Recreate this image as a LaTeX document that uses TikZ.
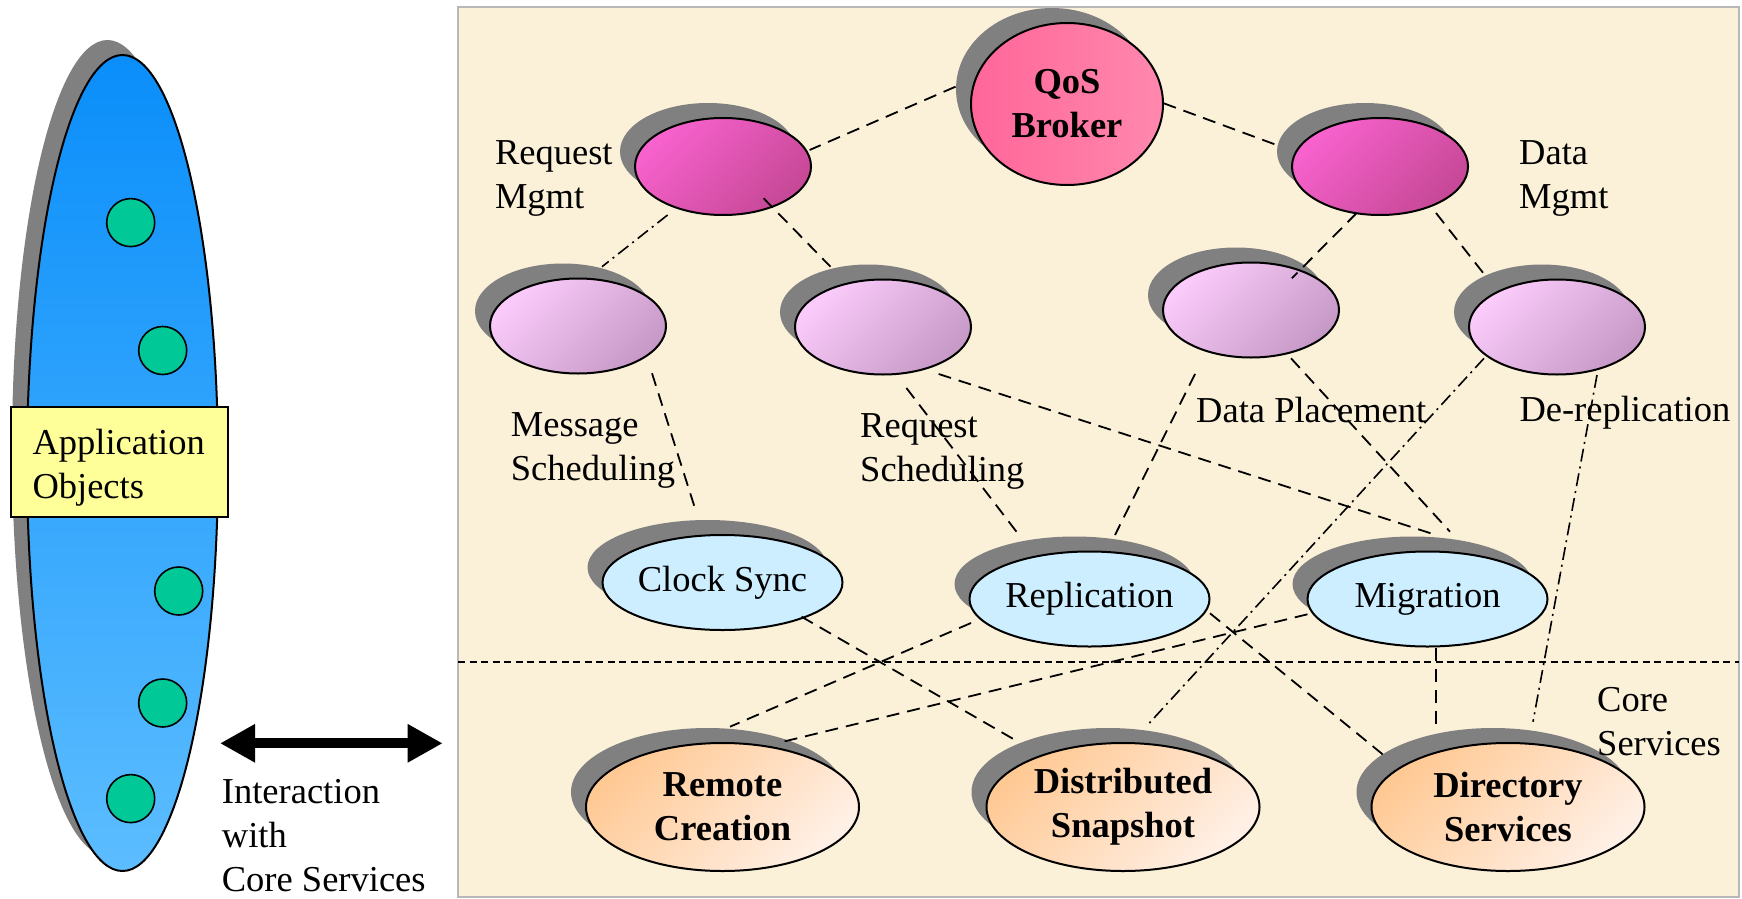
\documentclass[tikz,border=0pt]{standalone}
\usepackage{fontspec}
\setmainfont{Liberation Serif}
\usetikzlibrary{shapes.geometric,shadows,calc,arrows.meta}

\definecolor{shadowgray}{HTML}{808080}
\definecolor{panelbg}{HTML}{FBF0D8}
\definecolor{panelrule}{HTML}{B8B8B8}
\definecolor{apptop}{HTML}{0A8EFA}
\definecolor{appbot}{HTML}{5CBDFF}
\definecolor{objgreen}{HTML}{00C896}
\definecolor{boxyellow}{HTML}{FFFF99}
\definecolor{qosA}{HTML}{FF6699}
\definecolor{qosB}{HTML}{FF88AE}
\definecolor{mgmtA}{HTML}{F862CE}
\definecolor{mgmtB}{HTML}{C64896}
\definecolor{lavA}{HTML}{FBCCFB}
\definecolor{lavB}{HTML}{C699C6}
\definecolor{svcblue}{HTML}{CCEEFF}
\definecolor{coreA}{HTML}{FFC994}
\definecolor{coreB}{HTML}{FFF0E6}

\begin{document}
\begin{tikzpicture}[x=1pt,y=-1pt,
  basefont/.style={font=\fontsize{36.5}{44}\selectfont},
  % multi-line text: the base anchor sits on the last line
  txt/.style={basefont, inner sep=0pt, align=left, anchor=base west},
  shadowed/.style={drop shadow={shadow xshift=-15pt, shadow yshift=15pt,
      fill=shadowgray, opacity=1}},
  oval/.style={ellipse, draw=black, line width=2pt, inner sep=0pt, shadowed},
  mgmt/.style={oval, minimum width=176pt, minimum height=97pt,
      top color=mgmtA, bottom color=mgmtB, shading angle=45},
  policy/.style={oval, minimum width=176pt, minimum height=95pt,
      top color=lavA, bottom color=lavB, shading angle=45},
  service/.style={oval, minimum width=240pt, minimum height=95pt,
      fill=svcblue, basefont},
  core/.style={oval, minimum width=273pt, minimum height=128pt,
      top color=coreA, bottom color=coreB, shading angle=45,
      basefont, font=\fontsize{36.5}{44}\selectfont\bfseries, align=center},
  dot/.style={circle, draw=black, line width=1.6pt, fill=objgreen,
      minimum size=48pt, inner sep=0pt},
  conn/.style={line width=1.8pt, dash pattern=on 13pt off 8pt},
  conndot/.style={line width=1.6pt, dash pattern=on 13pt off 5pt on 2pt off 5pt},
  separator/.style={line width=2pt, dash pattern=on 7pt off 4.5pt},
  bothway/.style={line width=10pt,
      {Triangle[length=35pt,width=36pt]}-{Triangle[length=35pt,width=36pt]}}
]
\useasboundingbox (0,0) rectangle (1742,899);

% ---- application side ----
\node[ellipse, draw=black, line width=2pt, shadowed, inner sep=0pt,
      minimum width=191pt, minimum height=816pt,
      top color=apptop, bottom color=appbot] (app) at (122.5,463) {};
\node[dot] (o1) at (130.7,222.6) {};
\node[dot] (o2) at (162.7,350.5) {};
\node[dot] (o3) at (178.7,591) {};
\node[dot] (o4) at (162.7,703) {};
\node[dot] (o5) at (130.7,798.6) {};
\node[rectangle, draw=black, line width=2pt, fill=boxyellow,
      minimum width=217pt, minimum height=110pt] (appbox) at (119.2,461.9) {};
\node[txt] (apptext) at (32.3,498) {Application\\Objects};

\coordinate (ia) at (220,743.3);
\coordinate (ib) at (442.7,743.3);
\draw[bothway] (ia) -- (ib);
\node[txt] (interact) at (221.7,891) {Interaction\\with\\Core Services};

% ---- service panel ----
\filldraw[fill=panelbg, draw=panelrule, line width=2.5pt] (458,7) rectangle (1739,897);
\coordinate (sepL) at (458,661.7);
\coordinate (sepR) at (1739,661.7);
\draw[separator] (sepL) -- (sepR);

\node[oval, minimum width=192pt, minimum height=162pt,
      left color=qosA, right color=qosB,
      font=\fontsize{36.5}{44}\selectfont\bfseries, align=center]
      (qos) at (1067,104) {QoS\\Broker};

\node[mgmt] (rm) at (723,166.5) {};
\node[mgmt] (dm) at (1380,166.5) {};

\node[policy] (ms) at (578,326) {};
\node[policy] (rs) at (883,327) {};
\node[policy] (dp) at (1251,310) {};
\node[policy] (dr) at (1557,327) {};

\node[service] (cs) at (722.5,582.5) {Clock Sync};
\node[service] (rep) at (1089.5,599) {Replication};
\node[service] (mig) at (1427.5,599) {Migration};

\node[core] (rc) at (722.5,807) {Remote\\Creation};
\node[core] (dsn) at (1123,807) {Distributed\\Snapshot};
\node[core] (dir) at (1508,807) {Directory\\Services};

% ---- relations ----
\draw[conn] ($(qos)+(-111.5,-17.3)$) -- ($(rm)+(86.6,-16.5)$);
\draw[conn] ($(qos)+(96.7,-0.7)$) -- ($(dm)+(-103.4,-21.5)$);
\draw[conndot] ($(rm)+(-55.4,48.5)$) -- ($(ms)+(24,-59.3)$);
\draw[conn] ($(rm)+(40.6,31.8)$) -- ($(rs)+(-52.5,-60.3)$);
\draw[conn] ($(dm)+(-23.3,46.5)$) -- ($(dp)+(40.8,-31.7)$);
\draw[conn] ($(dm)+(56,46.5)$) -- ($(dr)+(-73,-53)$);
\draw[conn] ($(ms)+(74,47.3)$) -- ($(cs)+(-25.9,-69.2)$);
\draw[conn] ($(rs)+(23.4,61)$) -- ($(rep)+(-70.5,-64)$);
\draw[conn] ($(rs)+(55.6,47)$) -- ($(mig)+(8.5,-64)$);
\draw[conn] ($(dp)+(-56,64)$) -- ($(rep)+(25.5,-64)$);
\draw[conn] ($(dp)+(40,48.3)$) -- ($(mig)+(22.5,-67.3)$);
\draw[conndot] ($(dr)+(-73,31.3)$) -- ($(dsn)+(23,-80.3)$);
\draw[conndot] ($(dr)+(40,48)$) -- ($(dir)+(25,-85.3)$);
\draw[conn] ($(cs)+(79,34.2)$) -- ($(dsn)+(-105,-65.3)$);
\draw[conn] ($(rep)+(-118.5,24)$) -- ($(rc)+(7.5,-80.3)$);
\draw[conn] ($(mig)+(-120.1,15.3)$) -- ($(rc)+(56.5,-64.3)$);
\draw[conn] ($(rep)+(120.5,14.3)$) -- ($(dir)+(-120.5,-48.7)$);
\draw[conn] ($(mig)+(8.5,49.3)$) -- ($(dir)+(-72,-80.3)$);

% ---- labels ----
\node[txt] (lrm) at (494.8,208) {Request\\Mgmt};
\node[txt] (ldm) at (1519,208) {Data\\Mgmt};
\node[txt] (lms) at (510.7,480) {Message\\Scheduling};
\node[txt] (lrs) at (860,481.7) {Request\\Scheduling};
\node[txt] (ldp) at (1196,422.7) {Data Placement};
\node[txt] (ldr) at (1519.3,421.7) {De-replication};
\node[txt] (lcore) at (1597,755) {Core\\Services};
\end{tikzpicture}
\end{document}
